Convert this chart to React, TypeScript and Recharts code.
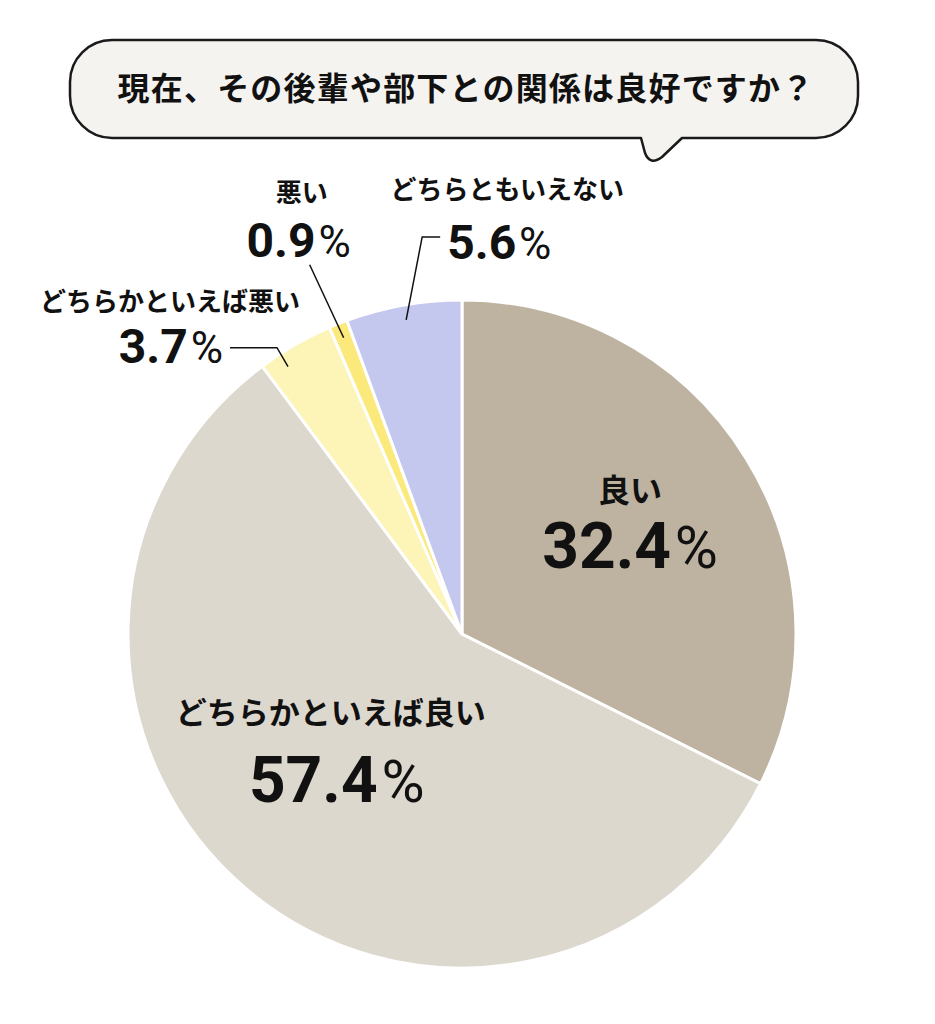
import React from 'react';
import { PieChart, Pie, Cell } from 'recharts';

const title = '現在、その後輩や部下との関係は良好ですか？';
const categories = ['良い', 'どちらかといえば良い', 'どちらかといえば悪い', '悪い', 'どちらともいえない'];
const values = [32.4, 57.4, 3.7, 0.9, 5.6];
const colors = ['#bdb3a0', '#ddd8ce', '#fdf4b8', '#fbe97c', '#c4c7ee'];

const data = categories.map((name, i) => ({ name, value: values[i] }));

const JP = '"Noto Sans CJK JP", "Noto Sans", sans-serif';
const NUM = 'Roboto, "DejaVu Sans", sans-serif';
const RAD = Math.PI / 180;
const polar = (cx: number, cy: number, r: number, a: number) => ({
  x: cx + r * Math.cos(-a * RAD),
  y: cy + r * Math.sin(-a * RAD),
});

// label layout (styles/positions only)
type Layout = {
  kind: 'in' | 'out';
  rf: number;
  shift: number;
  name: [number, number];
  val: [number, number];
  anchor: 'start' | 'middle' | 'end';
  nameSize: number;
  valSize: number;
  line?: [number, number][];
};
const layout: Layout[] = [
  { kind: 'in', rf: 0.5, shift: 0, name: [26, -44], val: [26, 22], anchor: 'middle', nameSize: 32, valSize: 64 },
  { kind: 'in', rf: 0.5, shift: 0, name: [-24, -38], val: [-18, 40], anchor: 'middle', nameSize: 31, valSize: 64 },
  { kind: 'out', rf: 0.955, shift: 3, name: [-118, -56], val: [-65, -4], anchor: 'end', nameSize: 26, valSize: 48, line: [[-11, -19], [-58, -19]] },
  { kind: 'out', rf: 0.955, shift: 0, name: [-42, -136], val: [-45, -81], anchor: 'middle', nameSize: 26, valSize: 48, line: [[-34, -73]] },
  { kind: 'out', rf: 0.955, shift: 0, name: [101, -121], val: [41, -61], anchor: 'start', nameSize: 26, valSize: 48, line: [[16, -83], [34, -83]] },
];

const ValueText = ({ x, y, value, size, anchor }: any) => (
  <text x={x} y={y} textAnchor={anchor} fontFamily={NUM} fontWeight={700} fontSize={size} fill="#111">
    {value.toFixed(1)}
    <tspan fontWeight={400} fontSize={size * 0.92} dx={size * 0.06}>%</tspan>
  </text>
);

const renderLabel = (props: any) => {
  const { cx, cy, midAngle, outerRadius, index, value, name } = props;
  const L = layout[index];
  const p = polar(cx, cy, outerRadius * L.rf, midAngle + L.shift);
  const pts = L.line ? [[p.x, p.y], ...L.line.map(([dx, dy]) => [p.x + dx, p.y + dy])] : null;
  return (
    <g key={`lbl-${index}`}>
      {pts && (
        <polyline points={pts.map((q) => q.join(',')).join(' ')} fill="none" stroke="#111" strokeWidth={1.5} />
      )}
      <text
        x={p.x + L.name[0]}
        y={p.y + L.name[1]}
        textAnchor="middle"
        fontFamily={JP}
        fontWeight={700}
        fontSize={L.nameSize}
        fill="#111"
      >
        {name}
      </text>
      <ValueText x={p.x + L.val[0]} y={p.y + L.val[1]} value={value} size={L.valSize} anchor={L.anchor} />
    </g>
  );
};

export default function App() {
  return (
    <div style={{ position: 'absolute', left: 0, top: 0, width: 935, height: 1024, background: '#fff' }}>
      <PieChart width={935} height={1024} margin={{ top: 0, right: 0, bottom: 0, left: 0 }}>
        <Pie
          data={data}
          dataKey="value"
          nameKey="name"
          cx={462}
          cy={634}
          outerRadius={334}
          startAngle={90}
          endAngle={-270}
          stroke="#ffffff"
          strokeWidth={3}
          isAnimationActive={false}
          label={renderLabel}
          labelLine={false}
        >
          {data.map((d, i) => (
            <Cell key={d.name} fill={colors[i]} />
          ))}
        </Pie>
      </PieChart>
      <svg width={935} height={200} style={{ position: 'absolute', left: 0, top: 0 }}>
        <path
          d="M 112 40 H 816 A 42 42 0 0 1 858 82 V 96 A 42 42 0 0 1 816 138 H 682 L 662 157 Q 650 166 645 153 L 641 138 H 112 A 42 42 0 0 1 70 96 V 82 A 42 42 0 0 1 112 40 Z"
          fill="#f4f3ef"
          stroke="#1a1a1a"
          strokeWidth={2.5}
          strokeLinejoin="round"
        />
        <text x={466} y={100} textAnchor="middle" fontFamily={JP} fontWeight={700} fontSize={32} letterSpacing={1.2} fill="#111">
          {title}
        </text>
      </svg>
    </div>
  );
}
